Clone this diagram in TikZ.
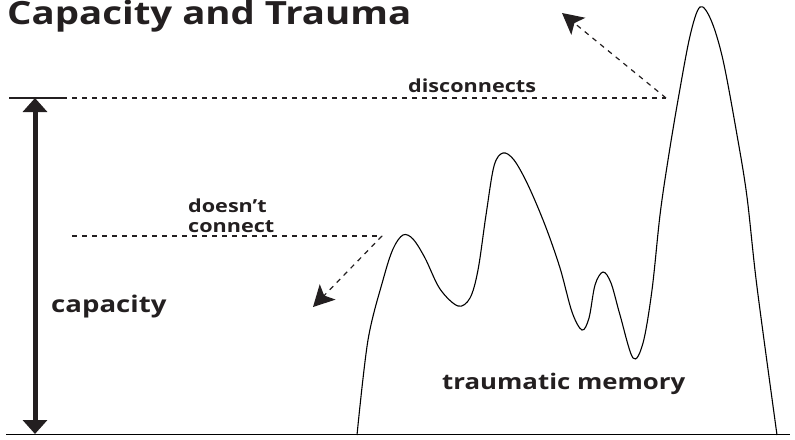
\documentclass[tikz,border=0pt]{standalone}
\usepackage{fontspec}
\setmainfont{Open Sans}
\newfontfamily\widesans[FakeStretch=1.2]{Open Sans}
\usetikzlibrary{arrows.meta}
\definecolor{ink}{HTML}{231F20}
\tikzset{
  lbl/.style={text=ink, inner sep=0pt, anchor=base west},
  guide/.style={draw=ink, line width=1.2pt, dash pattern=on 5pt off 5pt},
  pointer/.style={guide, -{Stealth[length=21pt,width=22pt,inset=5pt]}},
  span/.style={draw=ink, line width=5pt, {Triangle[length=14pt,width=24pt]}-{Triangle[length=14pt,width=24pt]}},
  memory/.style={draw=black, line width=1.1pt},
}
\begin{document}
\begin{tikzpicture}[x=1pt,y=-1pt]
\useasboundingbox (0,0) rectangle (795,439);
% title
\node[lbl, font=\widesans\bfseries\fontsize{32}{38}\selectfont] (title) at (7,24.5) {Capacity and Trauma};
% base line
\coordinate (b0) at (6,434.5);
\coordinate (b1) at (790,434.5);
\draw[black, line width=1.3pt] (b0) -- (b1);
% top capacity level
\coordinate (t0) at (9,98);
\coordinate (t1) at (62,98);
\coordinate (t2) at (666,98);
\draw[ink, line width=1.3pt] (t0) -- (t1);
\draw[guide] (t1) -- (t2);
% capacity arrow
\coordinate (ctop) at (35,98);
\coordinate (cbot) at (35,434);
\draw[span] (ctop) -- (cbot);
% middle dashed line
\coordinate (m0) at (72,236);
\coordinate (m1) at (382,236);
\draw[guide] (m0) -- (m1);
% pointers
\coordinate (dtip) at (562,13);
\draw[pointer] (t2) -- (dtip);
\coordinate (ntip) at (313,307);
\draw[pointer] (m1) -- (ntip);
% labels
\node[lbl, font=\widesans\bfseries\fontsize{18}{20}\selectfont] (disc) at (408,92) {disconnects};
\node[lbl, font=\widesans\bfseries\fontsize{18}{20}\selectfont, align=left] (dc) at (188,232) {doesn’t\\connect};
\node[lbl, font=\widesans\bfseries\fontsize{23}{26}\selectfont] (cap) at (51,312) {capacity};
\node[lbl, font=\widesans\bfseries\fontsize{21.5}{26}\selectfont] (tm) at (442,389) {traumatic memory};
% memory curve
\draw[memory] plot[smooth, tension=0.55] coordinates {
 (357,435) (368,340) (383,280) (393,249) (403,235) (413,239) (425,258)
 (440,289) (458,306) (470,298) (478,270) (486,215) (494,166) (503,153)
 (514,160) (528,185) (545,225) (560,268) (572,312) (582,330) (589,318)
 (595,285) (603,272) (611,283) (620,315) (633,358) (643,343) (652,290)
 (660,215) (668,160) (678,100) (690,36) (700,7) (711,20) (723,60)
 (737,135) (747,197) (757,287) (777,435)};
\end{tikzpicture}
\end{document}
